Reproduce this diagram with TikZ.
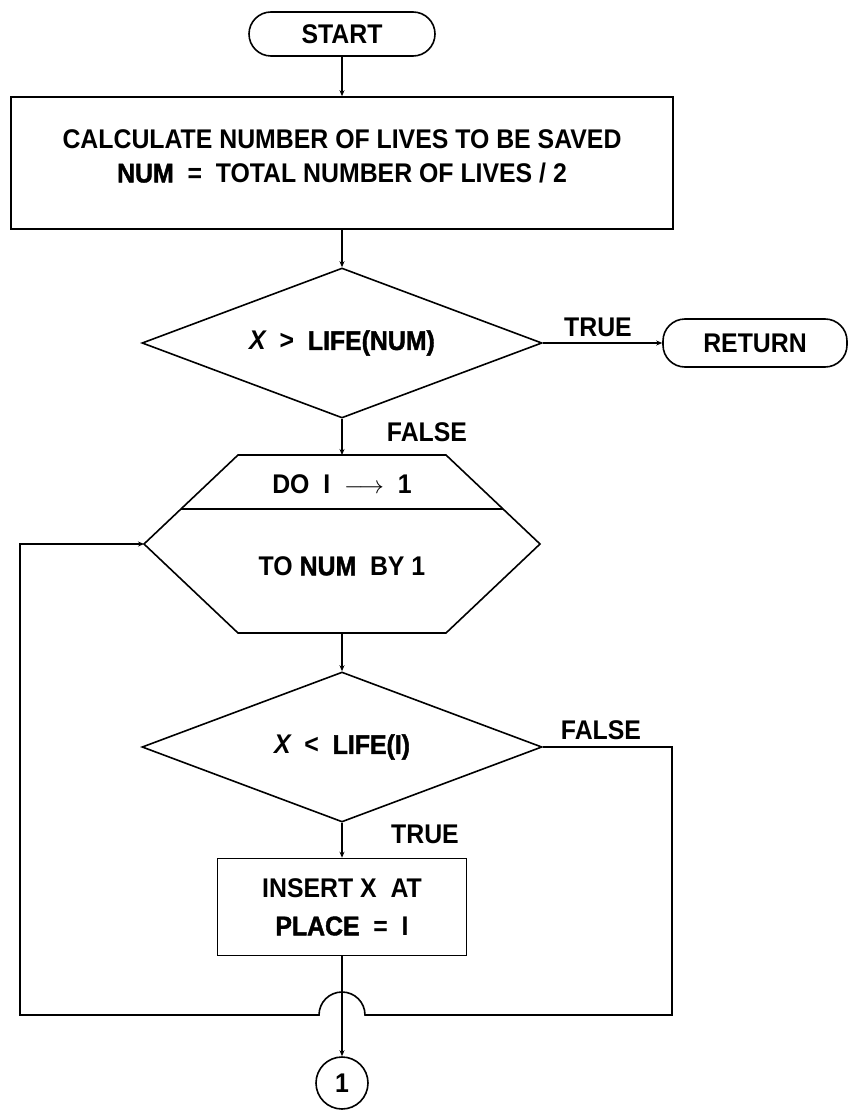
\documentclass[tikz,border=0pt]{standalone}
\usepackage{fontspec}
\newfontfamily\labfont{Liberation Sans}[FakeStretch=0.92]
\newfontfamily\heavyfont{Liberation Sans}[FakeStretch=0.92,BoldFeatures={FakeBold=1.5}]
\usetikzlibrary{shapes.geometric,arrows.meta}
\newcommand{\hv}[1]{{\heavyfont\bfseries #1}}

\begin{document}
\begin{tikzpicture}[x=1pt,y=-1pt,
  every node/.style={font=\labfont\bfseries\fontsize{27}{31}\selectfont, text=black, inner sep=0pt},
  flow/.style={draw, line width=1.6pt},
  terminal/.style={flow, rectangle, rounded corners=22pt},
  process/.style={flow, rectangle, align=center},
  decision/.style={flow, diamond, aspect=2.67, minimum width=400pt, minimum height=150pt},
  connector/.style={flow, circle, minimum size=52pt},
  link/.style={line width=1.6pt, -{Stealth[length=6pt,width=5pt]}},
  outline/.style={line width=1.6pt, line join=miter}
]
\useasboundingbox (0,0) rectangle (849,1110);

% start and initial computation
\node[terminal, minimum width=186pt, minimum height=44pt] (start) at (342,34) {START};
\node[process, minimum width=662pt, minimum height=132pt] (calc) at (342,163)
  {CALCULATE NUMBER OF LIVES TO BE SAVED\\[3pt]\hv{NUM}\ \ =\ \ TOTAL NUMBER OF LIVES / 2\\[-17pt]\mbox{}};

% first test
\node[decision] (test1) at (342,343) {\itshape X\upshape\ \ >\ \ \hv{LIFE(NUM)}};
\node[terminal, minimum width=184pt, minimum height=48pt] (ret) at (755,343) {RETURN};
\node (t1) at (598,327) {TRUE};
\node (f1) at (427,432) {FALSE};

% loop header (hexagon with its divider)
\coordinate (hexT) at (342,455);
\coordinate (hexB) at (342,633);
\coordinate (hexL) at (144,544);
\coordinate (hexR) at (540,544);
\draw[outline] (238,455) -- (446,455) -- (hexR) -- (446,633) -- (238,633) -- (hexL) -- cycle;
\draw[outline] (181,509) -- (503,509);
\node (doI) at (342,484) {DO\ \ I\ \ $\longrightarrow$\ \ 1};
\node (toNum) at (342,566) {TO \hv{NUM}\ \ BY 1};

% second test and insertion
\node[decision] (test2) at (342,747) {\itshape X\upshape\ \ <\ \ \hv{LIFE(I)}};
\node (f2) at (601,730) {FALSE};
\node (t2) at (425,834) {TRUE};
\node[process, minimum width=249pt, minimum height=97pt] (insert) at (342,907)
  {INSERT X\ \ AT\\[7pt]\hv{PLACE}\ \ =\ \ I};

% off-page connector
\node[connector] (one) at (342,1083) {1};

% connectors
\draw[link] (start) -- (calc);
\draw[link] (calc) -- (test1);
\draw[link] (test1) -- (ret);
\draw[link] (test1) -- (hexT);
\draw[link] (hexB) -- (test2);
\draw[link] (test2) -- (insert);
\draw[link] (insert) -- (one);

% loop back, hopping over the exit line
\coordinate (loopR) at (672,1015);
\coordinate (hopR) at (365,1015);
\coordinate (loopL) at (20,1015);
\draw[link, line join=miter] (test2.east) -| (loopR) -- (hopR)
  arc[start angle=0, end angle=180, radius=23pt] -- (loopL) |- (hexL);
\end{tikzpicture}
\end{document}
